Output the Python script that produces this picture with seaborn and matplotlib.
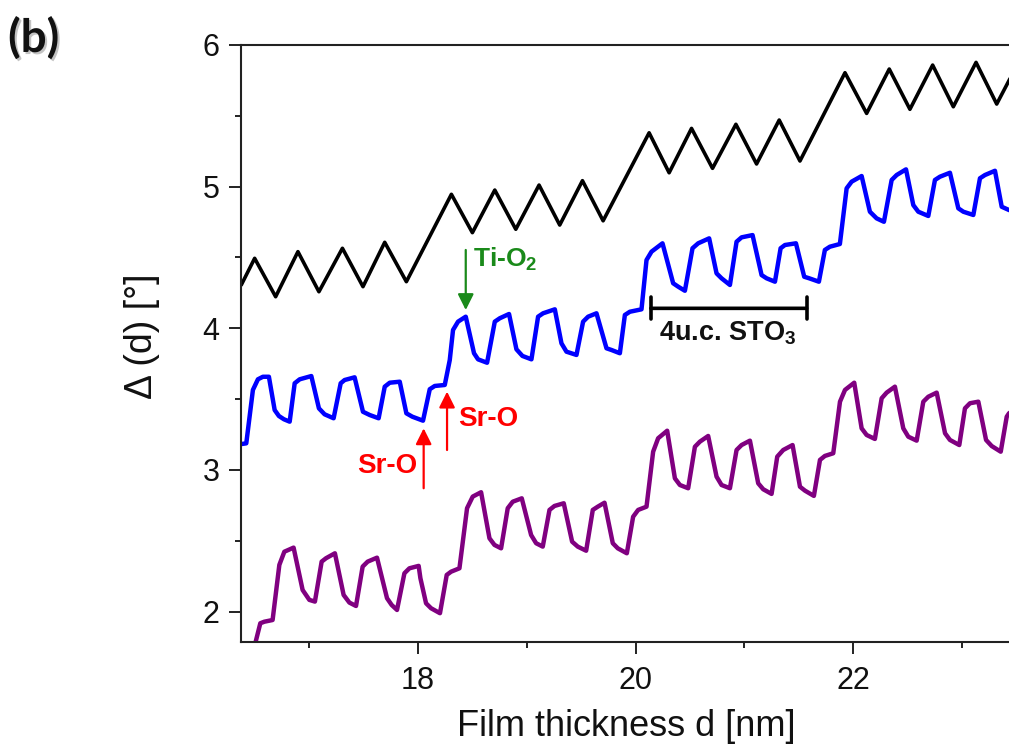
import matplotlib
matplotlib.use("Agg")
import matplotlib.pyplot as plt
import matplotlib.patheffects as pe
from matplotlib.ticker import MultipleLocator
import pandas as pd
import seaborn as sns

# Ellipsometric phase Delta (deg) versus film thickness d (nm) for three growth traces
black_d = [16.375, 16.498, 16.691, 16.896, 17.089, 17.305, 17.494, 17.694, 17.893,
           18.307, 18.500, 18.706, 18.899, 19.113, 19.303, 19.512, 19.702,
           20.125, 20.309, 20.515, 20.708, 20.923, 21.113, 21.321, 21.512,
           21.926, 22.125, 22.333, 22.523, 22.732, 22.922, 23.131, 23.321, 23.530]
black_delta = [4.306, 4.494, 4.223, 4.541, 4.258, 4.565, 4.294, 4.607, 4.329,
               4.946, 4.675, 4.976, 4.699, 5.011, 4.729, 5.042, 4.759,
               5.380, 5.098, 5.411, 5.129, 5.440, 5.160, 5.470, 5.181,
               5.804, 5.517, 5.830, 5.546, 5.858, 5.564, 5.877, 5.583, 5.890]

blue_d = [16.375, 16.421, 16.482, 16.528, 16.574, 16.629, 16.682, 16.721, 16.767, 16.820,
          16.866, 16.912, 17.019, 17.089, 17.141, 17.224, 17.289, 17.325, 17.417, 17.494,
          17.556, 17.638, 17.694, 17.740, 17.832, 17.893, 17.948, 18.046, 18.108, 18.154,
          18.246, 18.292, 18.322, 18.368, 18.439, 18.515, 18.552, 18.635, 18.706, 18.752,
          18.837, 18.905, 18.960, 19.043, 19.104, 19.150, 19.258, 19.319, 19.365, 19.457,
          19.518, 19.564, 19.641, 19.733, 19.779, 19.856, 19.902, 19.948, 20.055, 20.101,
          20.147, 20.248, 20.346, 20.392, 20.454, 20.524, 20.576, 20.677, 20.745, 20.791,
          20.868, 20.929, 20.975, 21.076, 21.159, 21.205, 21.282, 21.334, 21.374, 21.475,
          21.551, 21.597, 21.686, 21.741, 21.787, 21.879, 21.941, 21.987, 22.079, 22.155,
          22.217, 22.284, 22.355, 22.401, 22.487, 22.554, 22.600, 22.692, 22.753, 22.799,
          22.891, 22.968, 23.014, 23.106, 23.167, 23.213, 23.305, 23.367, 23.434, 23.470]
blue_delta = [3.183, 3.188, 3.565, 3.640, 3.658, 3.658, 3.423, 3.381, 3.358, 3.341,
              3.612, 3.640, 3.663, 3.435, 3.393, 3.365, 3.612, 3.635, 3.654, 3.411,
              3.388, 3.365, 3.588, 3.616, 3.623, 3.400, 3.376, 3.348, 3.570, 3.593,
              3.600, 3.776, 3.988, 4.047, 4.082, 3.824, 3.781, 3.757, 4.047, 4.071,
              4.101, 3.852, 3.805, 3.781, 4.082, 4.106, 4.134, 3.894, 3.835, 3.812,
              4.047, 4.082, 4.106, 3.859, 3.847, 3.824, 4.094, 4.117, 4.134, 4.482,
              4.541, 4.600, 4.318, 4.294, 4.265, 4.565, 4.600, 4.635, 4.388, 4.353,
              4.306, 4.611, 4.642, 4.658, 4.376, 4.353, 4.329, 4.565, 4.588, 4.600,
              4.364, 4.353, 4.329, 4.553, 4.576, 4.595, 4.988, 5.035, 5.075, 4.823,
              4.776, 4.752, 5.047, 5.082, 5.122, 4.870, 4.823, 4.793, 5.047, 5.070,
              5.098, 4.847, 4.823, 4.800, 5.059, 5.082, 5.112, 4.858, 4.835, 4.830]

purple_d = [16.500, 16.550, 16.587, 16.663, 16.725, 16.771, 16.856, 16.939, 16.970, 17.001,
            17.052, 17.114, 17.154, 17.236, 17.316, 17.369, 17.430, 17.491, 17.537, 17.623,
            17.715, 17.758, 17.807, 17.875, 17.921, 18.006, 18.022, 18.074, 18.120, 18.202,
            18.264, 18.304, 18.381, 18.451, 18.503, 18.580, 18.657, 18.703, 18.764, 18.825,
            18.871, 18.954, 19.040, 19.086, 19.147, 19.209, 19.255, 19.340, 19.417, 19.469,
            19.546, 19.607, 19.653, 19.715, 19.791, 19.837, 19.920, 19.978, 20.024, 20.101,
            20.162, 20.208, 20.291, 20.362, 20.408, 20.484, 20.546, 20.592, 20.668, 20.745,
            20.791, 20.868, 20.929, 20.975, 21.052, 21.128, 21.174, 21.251, 21.303, 21.358,
            21.444, 21.512, 21.558, 21.640, 21.696, 21.741, 21.818, 21.880, 21.926, 22.011,
            22.079, 22.125, 22.201, 22.263, 22.309, 22.385, 22.462, 22.508, 22.585, 22.646,
            22.692, 22.769, 22.846, 22.891, 22.977, 23.029, 23.075, 23.152, 23.223, 23.275,
            23.358, 23.413, 23.434, 23.470]
purple_delta = [1.765, 1.918, 1.929, 1.941, 2.330, 2.423, 2.452, 2.153, 2.118, 2.083,
                2.071, 2.353, 2.377, 2.412, 2.118, 2.064, 2.040, 2.318, 2.353, 2.381,
                2.095, 2.047, 2.012, 2.271, 2.306, 2.323, 2.236, 2.059, 2.024, 1.989,
                2.259, 2.282, 2.306, 2.730, 2.812, 2.843, 2.518, 2.471, 2.447, 2.730,
                2.776, 2.800, 2.541, 2.483, 2.459, 2.718, 2.746, 2.765, 2.494, 2.459,
                2.430, 2.718, 2.741, 2.769, 2.483, 2.447, 2.412, 2.670, 2.718, 2.741,
                3.129, 3.224, 3.277, 2.941, 2.894, 2.871, 3.164, 3.200, 3.240, 2.953,
                2.894, 2.871, 3.141, 3.176, 3.207, 2.906, 2.864, 2.831, 3.094, 3.141,
                3.176, 2.882, 2.854, 2.817, 3.071, 3.099, 3.118, 3.482, 3.565, 3.616,
                3.294, 3.247, 3.219, 3.506, 3.546, 3.588, 3.294, 3.235, 3.207, 3.482,
                3.517, 3.546, 3.259, 3.212, 3.176, 3.435, 3.471, 3.482, 3.212, 3.169,
                3.129, 3.376, 3.400, 3.420]

x_ticks = [18, 20, 22]
y_ticks = [2, 3, 4, 5, 6]

sns.set_theme(style="ticks")
plt.rcParams["font.family"] = ["Liberation Sans", "DejaVu Sans"]
plt.rcParams["mathtext.fontset"] = "custom"
plt.rcParams["mathtext.rm"] = "Liberation Sans"
plt.rcParams["mathtext.bf"] = "Liberation Sans:bold"

fig = plt.figure(figsize=(10.09, 7.52), dpi=100)
ax = fig.add_axes([0.2388, 0.1467, 0.7612, 0.7935])

traces = [
    (black_d, black_delta, "#000000", 2.6),
    (blue_d, blue_delta, "#0000ff", 3.2),
    (purple_d, purple_delta, "#800080", 3.2),
]
for d, delta, color, lw in traces:
    df = pd.DataFrame({"d": d, "delta": delta})
    sns.lineplot(data=df, x="d", y="delta", color=color, linewidth=lw,
                 sort=False, estimator=None, ax=ax,
                 solid_joinstyle="round", solid_capstyle="round")

ax.set_xlim(16.372, 23.434)
ax.set_ylim(1.788, 6.0)
ax.set_xticks(x_ticks)
ax.set_yticks(y_ticks)
ax.xaxis.set_minor_locator(MultipleLocator(1))
ax.yaxis.set_minor_locator(MultipleLocator(0.5))

spine_color = "#222222"
for side in ("left", "bottom", "top"):
    ax.spines[side].set_color(spine_color)
    ax.spines[side].set_linewidth(1.5)
ax.spines["right"].set_visible(False)

ax.tick_params(axis="both", which="major", direction="out", length=8.5, width=1.4,
               color=spine_color, labelcolor="#111111")
ax.tick_params(axis="both", which="minor", direction="out", length=4, width=1.4,
               color=spine_color)
ax.tick_params(axis="y", which="major", pad=7, labelsize=22)
ax.tick_params(axis="x", which="major", pad=9, labelsize=22)
ax.tick_params(top=False, right=False, which="both")

ax.set_xlabel("Film thickness d [nm]", fontsize=26, color="#111111")
ax.set_ylabel("Δ (d) [°]", fontsize=27, color="#111111")
ax.xaxis.set_label_coords(0.502, -0.113)
ax.yaxis.set_label_coords(-0.105, 0.512)

# Layer-termination markers
red = "#ff0000"
green = "#1a8a1a"
arrow_kw = dict(arrowstyle="-|>", lw=1.6, mutation_scale=24, shrinkA=0, shrinkB=0)
ax.annotate("", xy=(18.052, 3.294), xytext=(18.052, 2.871),
            arrowprops=dict(color=red, **arrow_kw))
ax.annotate("", xy=(18.267, 3.553), xytext=(18.267, 3.141),
            arrowprops=dict(color=red, **arrow_kw))
ax.annotate("", xy=(18.439, 4.129), xytext=(18.439, 4.553),
            arrowprops=dict(color=green, **arrow_kw))

ax.text(17.991, 2.977, "Sr-O", color=red, fontsize=20, fontweight="bold",
        ha="right", va="baseline")
ax.text(18.368, 3.311, "Sr-O", color=red, fontsize=20, fontweight="bold",
        ha="left", va="baseline")
ax.text(18.506, 4.433, r"Ti-O$_\mathbf{2}$", color=green, fontsize=19,
        fontweight="bold", ha="left", va="baseline")

# Scale bar spanning four unit cells
ax.annotate("", xy=(20.141, 4.141), xytext=(21.573, 4.141),
            arrowprops=dict(arrowstyle="|-|, widthA=0.4, widthB=0.4", color="black",
                            lw=2.6, mutation_scale=20, shrinkA=0, shrinkB=0))
ax.text(20.217, 3.917, r"4u.c. STO$_\mathbf{3}$", color="#111111", fontsize=19.5,
        fontweight="bold", ha="left", va="baseline")

fig.text(0.008, 0.978, "(b)", fontsize=33, fontweight="bold", family=["Lato", "DejaVu Sans"],
         ha="left", va="top", color="#111111",
         path_effects=[pe.withSimplePatchShadow(offset=(1.5, -1.5), shadow_rgbFace="#888888",
                                                alpha=0.5)])

fig.savefig("out.png", dpi=100)
